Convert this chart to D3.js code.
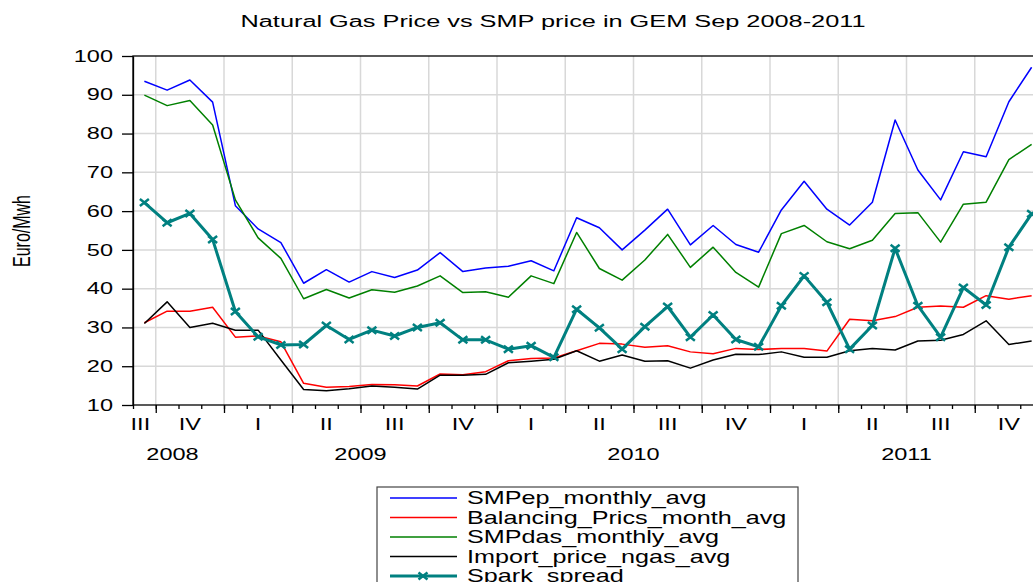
<!DOCTYPE html>
<html>
<head>
<meta charset="utf-8">
<script src="https://cdn.jsdelivr.net/npm/d3@7"></script>
<style>
  body { margin: 0; background: #fff; }
  text { font-family: "Liberation Sans", Arial, sans-serif; fill: #000; }
</style>
</head>
<body>
<div id="chart"></div>
<script>
const width = 1033
const height = 582
const sx = 1.47   // the original picture is stretched sideways

// monthly observations, Sep 2008 .. Dec 2011
const months = d3.timeMonth.range(new Date(2008, 8, 1), new Date(2012, 0, 1))

const smpep_monthly_avg = [93.5, 91.2, 93.8, 88.1,
    61.4, 55.4, 51.9, 41.4, 44.9, 41.7, 44.4, 42.9, 44.8, 49.3, 44.4, 45.3,
    45.8, 47.2, 44.6, 58.3, 55.7, 50.0, 55.1, 60.5, 51.3, 56.3, 51.4, 49.4,
    60.3, 67.7, 60.5, 56.4, 62.3, 83.5, 70.6, 62.9, 75.3, 74.0, 88.2, 97.1]
const balancing_prics_month_avg = [31.2, 34.2, 34.2, 35.2,
    27.5, 27.8, 26.3, 15.6, 14.6, 14.8, 15.3, 15.2, 14.9, 18.0, 17.8, 18.6,
    21.4, 22.0, 22.1, 24.0, 25.9, 25.7, 24.9, 25.3, 23.7, 23.2, 24.6, 24.3,
    24.6, 24.6, 23.9, 32.1, 31.7, 32.8, 35.2, 35.5, 35.2, 38.2, 37.3, 38.2]
const smpdas_monthly_avg = [89.9, 87.2, 88.5, 82.2,
    62.9, 53.1, 47.8, 37.4, 39.8, 37.6, 39.7, 39.1, 40.7, 43.3, 39.0, 39.2,
    37.8, 43.3, 41.3, 54.5, 45.2, 42.2, 47.4, 54.0, 45.5, 50.7, 44.2, 40.4,
    54.2, 56.3, 52.1, 50.3, 52.5, 59.4, 59.6, 52.0, 61.8, 62.3, 73.3, 77.2]
const import_price_ngas_avg = [31.0, 36.6, 30.0, 31.1,
    29.3, 29.3, 21.6, 14.0, 13.7, 14.2, 14.9, 14.6, 14.1, 17.7, 17.7, 17.9,
    20.9, 21.3, 21.8, 24.0, 21.3, 22.9, 21.3, 21.4, 19.5, 21.6, 23.1, 23.0,
    23.7, 22.3, 22.3, 24.0, 24.6, 24.2, 26.5, 26.7, 28.2, 31.7, 25.6, 26.5]
const spark_spread = [62.2, 57.0, 59.4, 52.7,
    34.1, 27.6, 25.5, 25.6, 30.5, 26.9, 29.3, 27.8, 30.0, 31.2, 26.8, 26.8,
    24.4, 25.3, 22.3, 34.7, 29.9, 24.4, 30.2, 35.4, 27.5, 33.2, 26.9, 25.0,
    35.6, 43.3, 36.5, 24.4, 30.5, 50.4, 35.6, 27.5, 40.3, 35.8, 50.7, 59.3]

const series_names = ['SMPep_monthly_avg', 'Balancing_Prics_month_avg', 'SMPdas_monthly_avg',
                      'Import_price_ngas_avg', 'Spark_spread']
const series_values = [smpep_monthly_avg, balancing_prics_month_avg, smpdas_monthly_avg,
                       import_price_ngas_avg, spark_spread]
const series_colors = ['#0000ff', '#ff0000', '#008000', '#000000', '#008080']
const y_ticks = [10, 20, 30, 40, 50, 60, 70, 80, 90, 100]
const quarter_names = ['I', 'II', 'III', 'IV']

const left = 133
const right = 1043
const top_y = 56
const bottom_y = 405

const svg = d3.select('#chart')
    .append('svg')
    .attr('width', width)
    .attr('height', height)

const x = d3.scaleBand().domain(months).range([left, right])
const xi = d3.scaleLinear().domain([0, months.length]).range([left, right])
const y = d3.scaleLinear().domain([10, 100]).range([bottom_y, top_y])

function stretched(g, px, py, str, size, anchor, s) {
    return g.append('text')
        .attr('transform', `translate(${px},${py}) scale(${s || sx},1)`)
        .attr('text-anchor', anchor)
        .style('font-size', size + 'px')
        .text(str)
}

// quarter boundaries (index of Jan/Apr/Jul/Oct)
const quarter_starts = d3.range(0, months.length + 1).filter(i => {
    const m = (8 + i) % 12
    return m % 3 === 0
})

// grid
svg.append('g')
    .selectAll('line')
    .data(y_ticks.slice(1, -1))
    .enter()
    .append('line')
    .attr('x1', left).attr('x2', right)
    .attr('y1', d => y(d)).attr('y2', d => y(d))
    .attr('stroke', '#d8d8d8')
    .attr('stroke-width', 1.5)
svg.append('g')
    .selectAll('line')
    .data(quarter_starts.filter(i => i < months.length))
    .enter()
    .append('line')
    .attr('x1', d => xi(d)).attr('x2', d => xi(d))
    .attr('y1', top_y).attr('y2', bottom_y)
    .attr('stroke', '#d8d8d8')
    .attr('stroke-width', 1.5)

// frame
svg.append('rect')
    .attr('x', left).attr('y', top_y)
    .attr('width', right - left).attr('height', bottom_y - top_y)
    .attr('fill', 'none')
    .attr('stroke', '#000')
    .attr('stroke-width', 1.3)

// y axis
const y_axis = svg.append('g')
    .attr('transform', `translate(${left},0)`)
    .call(d3.axisLeft(y).tickValues(y_ticks).tickSize(11).tickSizeOuter(0))
y_axis.select('.domain').attr('stroke', '#000').attr('stroke-width', 1.3)
y_axis.selectAll('.tick line').attr('stroke', '#000').attr('stroke-width', 1.3)
y_axis.selectAll('.tick text')
    .attr('x', -20 / sx)
    .attr('transform', `scale(${sx},1)`)
    .style('font-size', '16px')
    .attr('fill', '#000')

// x axis: month ticks and quarter ticks
const minor_axis = svg.append('g')
    .attr('transform', `translate(0,${bottom_y})`)
    .call(d3.axisBottom(xi).tickValues(d3.range(0, months.length + 1)).tickSize(4).tickFormat(''))
minor_axis.select('.domain').remove()
minor_axis.selectAll('.tick line').attr('stroke', '#000').attr('stroke-width', 1.3)
const major_axis = svg.append('g')
    .attr('transform', `translate(0,${bottom_y})`)
    .call(d3.axisBottom(xi).tickValues(quarter_starts).tickSize(8).tickFormat(''))
major_axis.select('.domain').remove()
major_axis.selectAll('.tick line').attr('stroke', '#000').attr('stroke-width', 1.3)

// quarter labels
const bounds = [0].concat(quarter_starts.filter(i => i > 0 && i < months.length), [months.length])
for (let k = 0; k < bounds.length - 1; k++) {
    const a = bounds[k], b = bounds[k + 1]
    const q = Math.floor(months[a].getMonth() / 3)
    stretched(svg, xi((a + b) / 2) - (k === 0 ? 4 : 0), 430, quarter_names[q], 16, 'middle')
}
// year labels
const years = Array.from(new Set(months.map(d => d.getFullYear())))
years.forEach((yr, k) => {
    const idx = months.map((d, i) => d.getFullYear() === yr ? i : -1).filter(i => i >= 0)
    const a = idx[0], b = idx[idx.length - 1] + 1
    stretched(svg, xi((a + b) / 2) - (k === 0 ? 6 : 0), 460, String(yr), 16, 'middle')
})

// y label
svg.append('text')
    .attr('transform', `translate(30,231) scale(${sx},1) rotate(-90)`)
    .attr('text-anchor', 'middle')
    .style('font-size', '16px')
    .text('Euro/Mwh')

// title
svg.append('text')
    .attr('x', 553).attr('y', 27)
    .attr('text-anchor', 'middle')
    .attr('textLength', 625)
    .attr('lengthAdjust', 'spacingAndGlyphs')
    .style('font-size', '16px')
    .text('Natural Gas Price vs SMP price in GEM Sep 2008-2011')

// series
const plot = svg.append('g')
const line_gen = d3.line()
    .x((d, i) => x(months[i]) + x.bandwidth() / 2)
    .y(d => y(d))
const cross = 'M-4.5,-3.5L4.5,3.5M-4.5,3.5L4.5,-3.5'

series_values.forEach((vals, k) => {
    const spark = k === 4
    plot.append('path')
        .datum(vals)
        .attr('d', line_gen)
        .attr('fill', 'none')
        .attr('stroke', series_colors[k])
        .attr('stroke-width', spark ? 3 : 1.5)
        .attr('stroke-linejoin', 'round')
    if (spark) {
        plot.selectAll('.marker')
            .data(vals)
            .enter()
            .append('path')
            .attr('class', 'marker')
            .attr('d', cross)
            .attr('transform', (d, i) => `translate(${x(months[i]) + x.bandwidth() / 2},${y(d)})`)
            .attr('stroke', series_colors[k])
            .attr('stroke-width', 2.5)
    }
})

// legend
const legend = svg.append('g')
legend.append('rect')
    .attr('x', 377).attr('y', 487)
    .attr('width', 421).attr('height', 130)
    .attr('fill', '#fff')
    .attr('stroke', '#444')
    .attr('stroke-width', 1.2)
series_names.forEach((name, k) => {
    const ly = 498 + k * 19.5
    legend.append('line')
        .attr('x1', 390).attr('x2', 457)
        .attr('y1', ly).attr('y2', ly)
        .attr('stroke', series_colors[k])
        .attr('stroke-width', k === 4 ? 3 : 1.5)
    if (k === 4) {
        legend.append('path')
            .attr('d', cross)
            .attr('transform', `translate(423,${ly})`)
            .attr('stroke', series_colors[k])
            .attr('stroke-width', 2.5)
    }
    stretched(legend, 467, ly + 6, name, 17.5, 'start', 1.44)
})
</script>
</body>
</html>
